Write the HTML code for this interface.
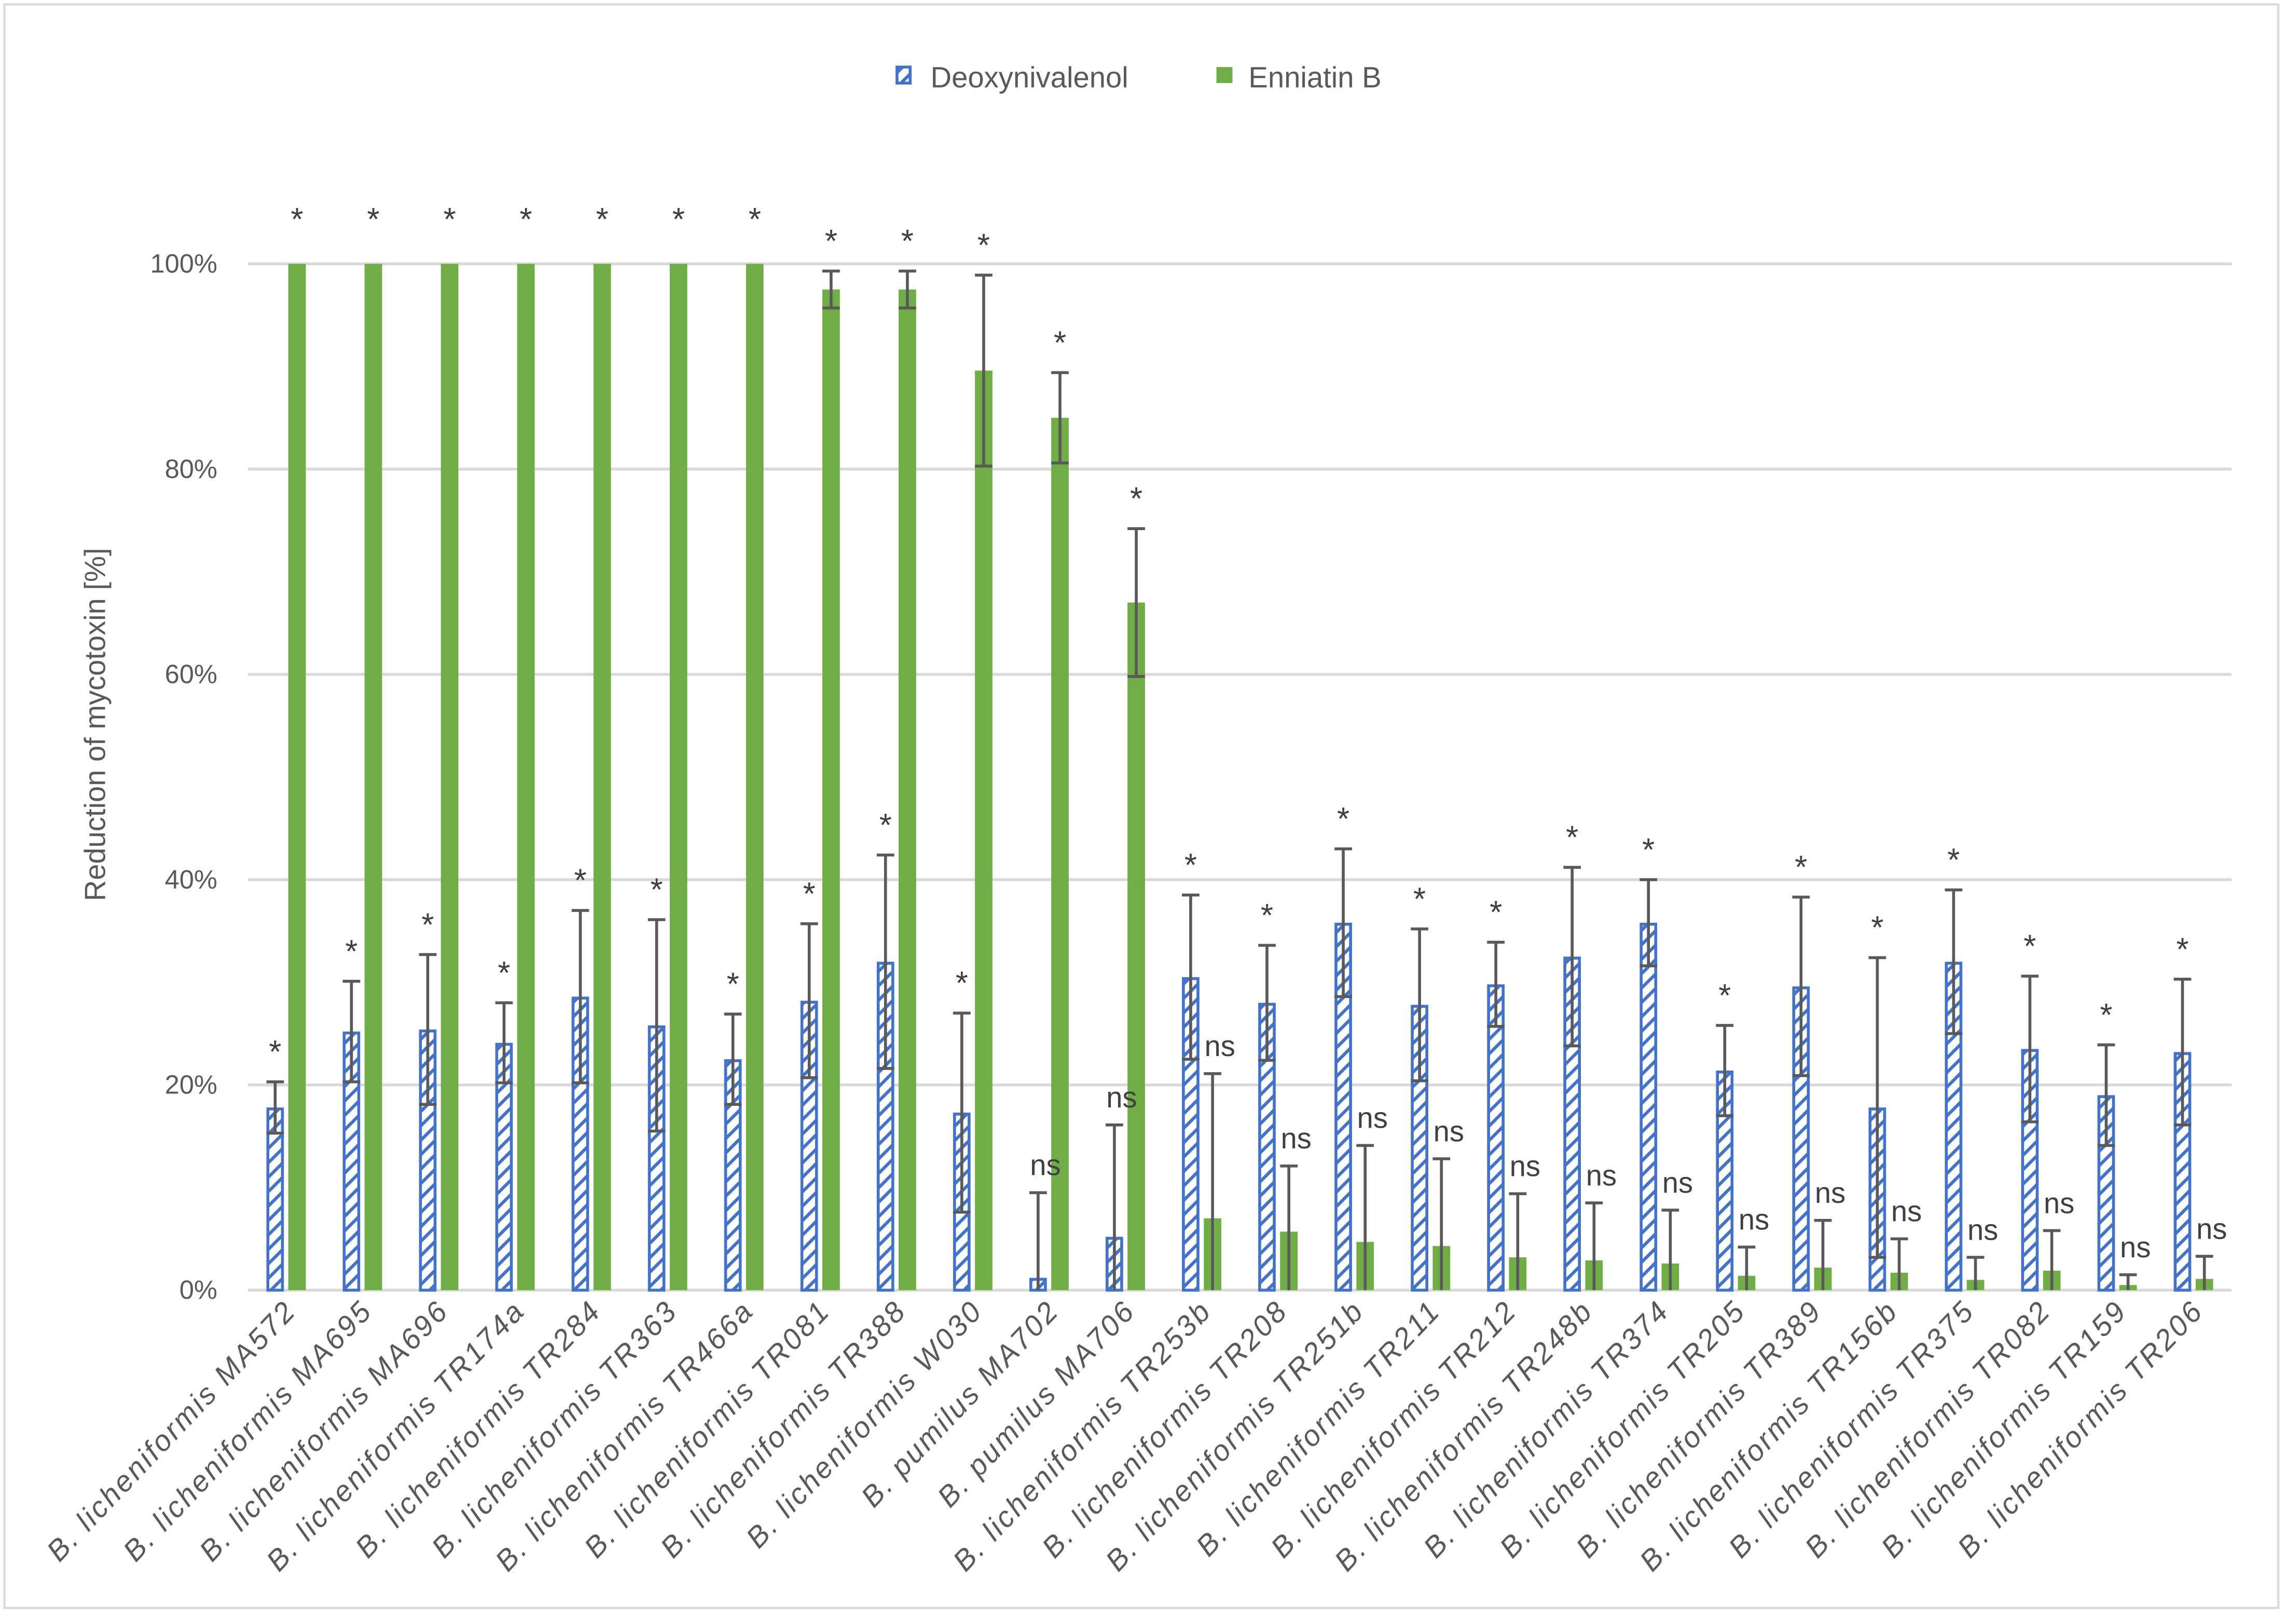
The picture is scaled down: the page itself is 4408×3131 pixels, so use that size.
<!DOCTYPE html>
<html><head><meta charset="utf-8"><style>html,body{margin:0;padding:0;background:#fff}svg{display:block}</style></head>
<body>
<svg id="chart" xmlns="http://www.w3.org/2000/svg" width="4408" height="3131" viewBox="0 0 1568 1114" preserveAspectRatio="none" font-family="Liberation Sans, sans-serif">
<defs>
<pattern id="hatch" patternUnits="userSpaceOnUse" width="7" height="7" patternTransform="rotate(45)">
<rect width="7" height="7" fill="#fff"/><rect x="0" y="0" width="2.2" height="7" fill="#4472c4"/>
</pattern>
</defs>
<rect x="3" y="3" width="1559" height="1100" fill="#fff" stroke="#d9d9d9" stroke-width="1.5"/>
<g>
<rect x="615" y="46" width="9" height="11" fill="url(#hatch)" stroke="#4472c4" stroke-width="2"/>
<text x="638" y="60" font-size="20" fill="#595959">Deoxynivalenol</text>
<rect x="834" y="46" width="11" height="11" fill="#70ad47"/>
<text x="856" y="60" font-size="20" fill="#595959">Enniatin B</text>
</g>
<text transform="translate(72,497) rotate(-90)" text-anchor="middle" font-size="20" fill="#595959">Reduction of mycotoxin [%]</text>
<g id="grid"></g><g id="bars"></g><g id="labels"></g>
</svg>
<script>
const categories=["B. licheniformis MA572","B. licheniformis MA695","B. licheniformis MA696","B. licheniformis TR174a","B. licheniformis TR284","B. licheniformis TR363","B. licheniformis TR466a","B. licheniformis TR081","B. licheniformis TR388","B. licheniformis W030","B. pumilus MA702","B. pumilus MA706","B. licheniformis TR253b","B. licheniformis TR208","B. licheniformis TR251b","B. licheniformis TR211","B. licheniformis TR212","B. licheniformis TR248b","B. licheniformis TR374","B. licheniformis TR205","B. licheniformis TR389","B. licheniformis TR156b","B. licheniformis TR375","B. licheniformis TR082","B. licheniformis TR159","B. licheniformis TR206"];
const donValues=[17.8,25.2,25.4,24.1,28.6,25.8,22.5,28.2,32,17.3,1.2,5.2,30.5,28,35.8,27.8,29.8,32.5,35.8,21.4,29.6,17.8,32,23.5,19,23.2];
const donErrors=[2.5,4.9,7.3,3.9,8.4,10.3,4.4,7.5,10.4,9.7,8.3,10.9,8,5.6,7.2,7.4,4.1,8.7,4.2,4.4,8.7,14.6,7,7.1,4.9,7.1];
const donSig=["*","*","*","*","*","*","*","*","*","*","ns","ns","*","*","*","*","*","*","*","*","*","*","*","*","*","*"];
const enbValues=[100,100,100,100,100,100,100,97.5,97.5,89.6,85,67,7,5.7,4.7,4.3,3.2,2.9,2.6,1.4,2.2,1.7,1,1.9,0.5,1.1];
const enbErrors=[0,0,0,0,0,0,0,1.8,1.8,9.3,4.4,7.2,14.1,6.4,9.4,8.5,6.2,5.6,5.2,2.8,4.6,3.3,2.2,3.9,1,2.2];
const enbSig=["*","*","*","*","*","*","*","*","*","*","*","*","ns","ns","ns","ns","ns","ns","ns","ns","ns","ns","ns","ns","ns","ns"];
const yTicks=[0,20,40,60,80,100];

const NS="http://www.w3.org/2000/svg";
const X0=170,X1=1530,Y0=885,Y100=181;
const band=(X1-X0)/categories.length;
const y=v=>Y0-(v/100)*(Y0-Y100);
const cx=i=>X0+band*(i+0.5);
function mk(tag,attrs,parent){const e=document.createElementNS(NS,tag);for(const k in attrs)e.setAttribute(k,attrs[k]);parent.appendChild(e);return e;}
const grid=document.getElementById('grid'),bars=document.getElementById('bars'),labels=document.getElementById('labels');
yTicks.forEach(t=>{
  const l=mk('line',{x1:X0,x2:X1,y1:y(t),y2:y(t),stroke:'#d9d9d9','stroke-width':2},grid);
  
  
  const tx=mk('text',{x:149,y:y(t)+6,'text-anchor':'end','font-size':18,fill:'#595959'},grid);
  tx.textContent=t+'%';
  
  
});
function errbar(x,v,e,name){
  if(e<=0)return v;
  const top=v+e,bot=Math.max(0,v-e);
  const g=mk('g',{stroke:'#595959','stroke-width':2},bars);
  
  
  mk('line',{x1:x,x2:x,y1:y(top),y2:y(bot)},g);
  mk('line',{x1:x-6,x2:x+6,y1:y(top),y2:y(top)},g);
  if(v-e>0)mk('line',{x1:x-6,x2:x+6,y1:y(bot),y2:y(bot)},g);
  return top;
}
categories.forEach((c,i)=>{
  const xb=cx(i)-7.5, xg=cx(i)+7.5, w=12;
  const b=mk('rect',{x:xb-w/2+1,y:y(donValues[i])+1,width:w-2,height:Math.max(0,y(0)-y(donValues[i])-1),fill:'url(#hatch)',stroke:'#4472c4','stroke-width':2},bars);
  
  
  const g=mk('rect',{x:xg-w/2,y:y(enbValues[i]),width:w,height:y(0)-y(enbValues[i]),fill:'#70ad47'},bars);
  
  
  const tb=errbar(xb,donValues[i],donErrors[i],'error-bar-deoxynivalenol-'+i);
  const tg=errbar(xg,enbValues[i],enbErrors[i],'error-bar-enniatin-b-'+i);
  [[xb,tb,donSig[i],'deoxynivalenol'],[xg,tg,enbSig[i],'enniatin-b']].forEach(([x,t,s,n])=>{
    const star=s==='*';
    const off=(enbErrors[i]===0&&n==='enniatin-b')?10:0;
    const tx=mk('text',{x:x+(star?0:5),y:y(t)-(star?13:12)-off,'text-anchor':'middle','font-size':star?22:20,fill:'#404040'},labels);
    tx.textContent=s;
    
    
  });
  const lab=mk('text',{transform:`translate(${cx(i)+8},${900}) rotate(-46.5)`,'text-anchor':'end','font-size':20,'letter-spacing':1.5,'font-style':'italic',fill:'#595959'},labels);
  lab.textContent=c;
  
  
});
</script>
</body></html>
